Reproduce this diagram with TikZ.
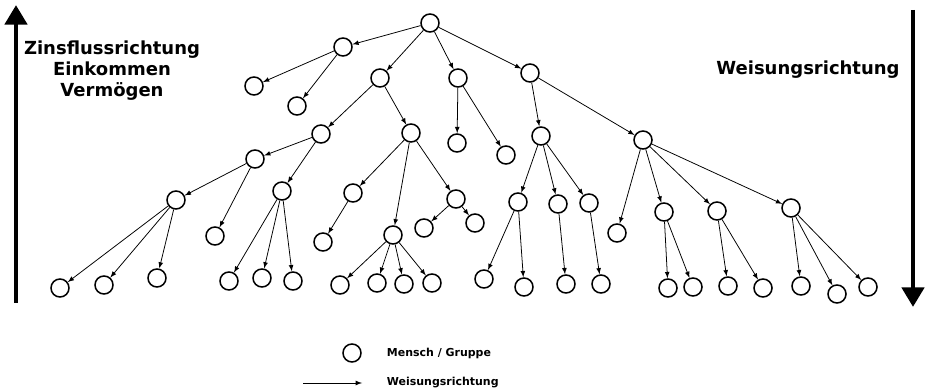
\documentclass[tikz,border=0pt]{standalone}
\usepackage{fontspec}
\setmainfont{DejaVu Sans}
\usepackage{tikz}
\usetikzlibrary{arrows, arrows.meta}

\begin{document}
\begin{tikzpicture}[mensch/.style={draw, circle, line width=1.1pt, minimum size=0.45cm, inner sep=0pt},
				weisung/.style={->, line width=0.55pt},
				richtung/.style={line width=3.5pt, -{Triangle[width=15.6pt, length=14pt]}},
				x=0.025cm, y=-0.025cm,
				>=latex,   %Pfeilspitzen
				font=\bfseries]
				%Bildbereich
				\useasboundingbox (0,0) rectangle (926,392);
				% Knoten zeichnen
				\node[mensch] (w) at (430,23) {};
				\node[mensch] (a) at (343,47) {};
				\node[mensch] (b) at (380,78) {};
				\node[mensch] (c) at (458,78) {};
				\node[mensch] (d) at (530,73) {};
				\node[mensch] (a1) at (254,86) {};
				\node[mensch] (a2) at (297,106) {};
				\node[mensch] (b1) at (321,134) {};
				\node[mensch] (b2) at (411,133) {};
				\node[mensch] (c1) at (457,143) {};
				\node[mensch] (c2) at (506,155) {};
				\node[mensch] (d1) at (541,136) {};
				\node[mensch] (d2) at (643,140) {};
				\node[mensch] (b11) at (255,159) {};
				\node[mensch] (b12) at (282,191) {};
				\node[mensch] (b111) at (176,200) {};
				\node[mensch] (b112) at (215,236) {};
				\node[mensch] (b1111) at (60,288) {};
				\node[mensch] (b1112) at (104,285) {};
				\node[mensch] (b1113) at (157,278) {};
				\node[mensch] (b121) at (229,281) {};
				\node[mensch] (b122) at (262,278) {};
				\node[mensch] (b123) at (293,281) {};
				\node[mensch] (b21) at (353,193) {};
				\node[mensch] (b22) at (393,235) {};
				\node[mensch] (b23) at (456,199) {};
				\node[mensch] (b211) at (323,242) {};
				\node[mensch] (b221) at (340,285) {};
				\node[mensch] (b222) at (377,283) {};
				\node[mensch] (b223) at (404,284) {};
				\node[mensch] (b224) at (432,283) {};
				\node[mensch] (b231) at (424,228) {};
				\node[mensch] (b232) at (475,223) {};
				\node[mensch] (d11) at (518,202) {};
				\node[mensch] (d12) at (558,204) {};
				\node[mensch] (d13) at (589,203) {};
				\node[mensch] (d111) at (484,279) {};
				\node[mensch] (d112) at (524,287) {};
				\node[mensch] (d121) at (566,284) {};
				\node[mensch] (d131) at (601,284) {};
				\node[mensch] (d21) at (617,233) {};
				\node[mensch] (d22) at (664,212) {};
				\node[mensch] (d23) at (717,211) {};
				\node[mensch] (d24) at (791,208) {};
				\node[mensch] (d221) at (668,288) {};
				\node[mensch] (d222) at (693,287) {};
				\node[mensch] (d231) at (728,286) {};
				\node[mensch] (d232) at (763,288) {};
				\node[mensch] (d241) at (801,286) {};
				\node[mensch] (d242) at (837,294) {};
				\node[mensch] (d243) at (868,287) {};
				% Weisungen zeichnen
				\foreach \von/\nach in {w/a, w/b, w/c, w/d, a/a1, a/a2, b/b1, b/b2, c/c1, c/c2, d/d1, d/d2,
					b1/b11, b1/b12, b11/b111, b11/b112, b111/b1111, b111/b1112, b111/b1113,
					b12/b121, b12/b122, b12/b123, b2/b21, b2/b22, b2/b23, b21/b211,
					b22/b221, b22/b222, b22/b223, b22/b224, b23/b231, b23/b232,
					d1/d11, d1/d12, d1/d13, d11/d111, d11/d112, d12/d121, d13/d131,
					d2/d21, d2/d22, d2/d23, d2/d24, d22/d221, d22/d222, d23/d231, d23/d232,
					d24/d241, d24/d242, d24/d243}
					\draw[weisung] (\von) -- (\nach);
				% Richtungspfeile
				\coordinate (zu) at (16,303);
				\coordinate (zo) at (16,5);
				\coordinate (wo) at (913,10);
				\coordinate (wu) at (913,307);
				\draw[richtung] (zu) -- (zo);
				\draw[richtung] (wo) -- (wu);
				% Beschriftung
				\node[align=center, font=\bfseries\fontsize{12.8}{15}\selectfont] (zins) at (112,71) {Zinsflussrichtung\\Einkommen\\Vermögen};
				\node[font=\bfseries\fontsize{12.8}{15}\selectfont] (weis) at (808,70) {Weisungsrichtung};
				% Legende
				\node[mensch] (lm) at (352,353) {};
				\node[right, font=\bfseries\fontsize{7.8}{9}\selectfont] (lmt) at (382,353) {Mensch / Gruppe};
				\coordinate (lpa) at (303,383);
				\coordinate (lpe) at (362,383);
				\draw[weisung] (lpa) -- (lpe);
				\node[right, font=\bfseries\fontsize{7.8}{9}\selectfont] (lpt) at (382,383) {Weisungsrichtung};
			\end{tikzpicture}
\end{document}
